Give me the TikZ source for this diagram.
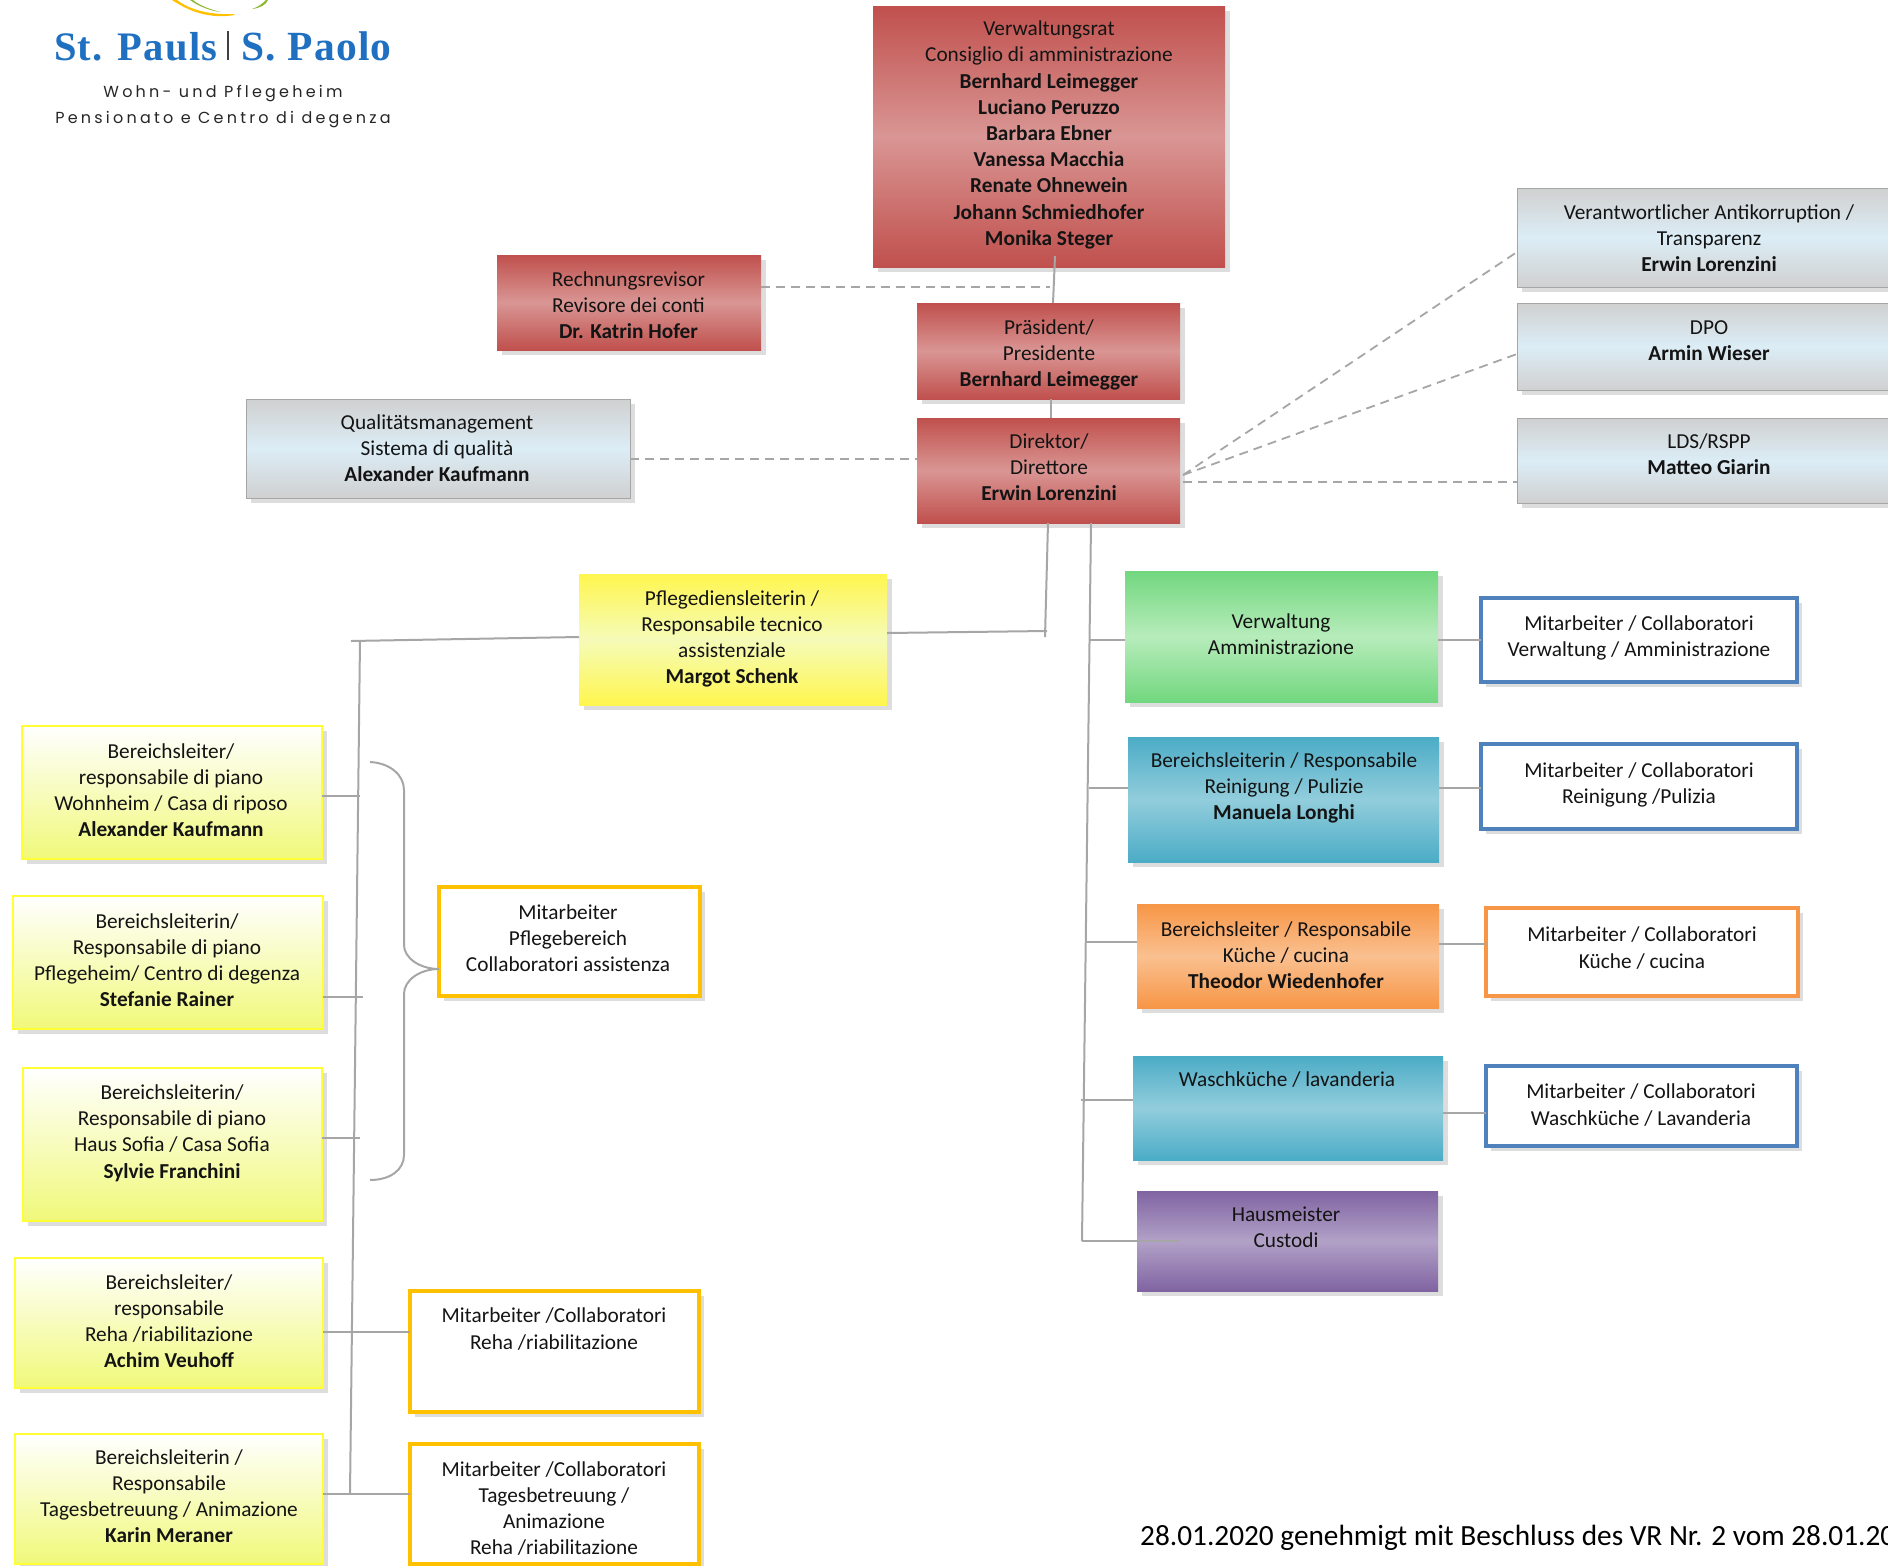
\documentclass[tikz,border=0pt]{standalone}
\usepackage{fontspec}
\setmainfont{Carlito}
\newfontfamily\logofont[LetterSpace=3]{Liberation Serif}
\newfontfamily\tagfont[LetterSpace=20]{Poppins}
\definecolor{linegrey}{HTML}{A6A6A6}
\definecolor{shadowgrey}{HTML}{DDDDDD}
\definecolor{redA}{HTML}{C0504D}\definecolor{redB}{HTML}{D99694}
\definecolor{greyA}{HTML}{D0D0D0}\definecolor{greyB}{HTML}{DCEDF6}
\definecolor{greenA}{HTML}{72D77F}\definecolor{greenB}{HTML}{B7ECBB}
\definecolor{blueA}{HTML}{4BACC6}\definecolor{blueB}{HTML}{92CDDC}
\definecolor{orangeA}{HTML}{F79646}\definecolor{orangeB}{HTML}{FAC090}
\definecolor{purpleA}{HTML}{8064A2}\definecolor{purpleB}{HTML}{B2A1C7}
\definecolor{yelA}{HTML}{FFF64F}\definecolor{yelB}{HTML}{F5FBB8}
\definecolor{yelC}{HTML}{F0F97A}\definecolor{yelEdge}{HTML}{FFFF33}
\definecolor{goldEdge}{HTML}{FFC000}\definecolor{navyEdge}{HTML}{4F81BD}
\definecolor{logoblue}{HTML}{1F70C1}
\definecolor{logogreen}{HTML}{8DB82E}
\tikzset{
  x=1pt,y=-1pt,
  orgbox/.style={rectangle,inner sep=0pt,outer sep=0pt},
  tricolor/.style 2 args={top color=#1,bottom color=#1,middle color=#2},
  redbox/.style={orgbox,tricolor={redA}{redB}},
  greybox/.style={orgbox,tricolor={greyA}{greyB},draw=linegrey,line width=1pt},
  greenbox/.style={orgbox,tricolor={greenA}{greenB}},
  bluebox/.style={orgbox,tricolor={blueA}{blueB}},
  orangebox/.style={orgbox,tricolor={orangeA}{orangeB}},
  purplebox/.style={orgbox,tricolor={purpleA}{purpleB}},
  yellowbox/.style={orgbox,tricolor={yelA}{yelB}},
  leadbox/.style={orgbox,top color=white,bottom color=yelC,draw=yelEdge,line width=1.6pt},
  goldbox/.style={orgbox,fill=white,draw=goldEdge,line width=4pt},
  navybox/.style={orgbox,fill=white,draw=navyEdge,line width=3.2pt},
  orangeline/.style={orgbox,fill=white,draw=orangeA,line width=3.2pt},
  boxtext/.style={inner sep=0pt,align=center,text=black!92,font=\fontsize{21.3}{26.2}\selectfont},
  solidlink/.style={draw=linegrey,line width=2pt},
  dashlink/.style={draw=linegrey,line width=1.8pt,dash pattern=on 9pt off 6pt},
}
\newcommand{\orgnode}[8]{%
  \fill[shadowgrey] (#3+5,#4+5) rectangle (#5+5,#6+5);
  \node[#1,minimum width={(#5-#3)*1pt},minimum height={(#6-#4)*1pt}] (#2) at ({(#3+#5)/2},{(#4+#6)/2}) {};
  \node[boxtext] (#2-text) at (#7,#8) {\orgtext};
}
\newcommand{\orgtext}{}
\newcommand{\bx}[9]{\renewcommand{\orgtext}{#9}\orgnode{#1}{#2}{#3}{#4}{#5}{#6}{#7}{#8}}
\begin{document}
\begin{tikzpicture}
\useasboundingbox (0,0) rectangle (1888,1566);
\clip (0,0) rectangle (1888,1566);
% logo
\fill[goldEdge] (177,0) .. controls (190,10) and (210,15) .. (233,14) -- (235,15) .. controls (210,19) and (190,12) .. (172,0) -- cycle;
\fill[logogreen] (193,0) .. controls (200,6) and (212,10) .. (221,12) .. controls (210,11) and (198,6) .. (190,0) -- cycle;
\fill[logogreen] (252,9) .. controls (258,7) and (262,4) .. (266,0) -- (268,0) .. controls (266,5) and (260,8) .. (252,9) -- cycle;
\node[anchor=base west,inner sep=0pt,text=logoblue,font=\logofont\bfseries\fontsize{40.5}{42}\selectfont] (logoa) at (54,60) {St. Pauls};
\node[anchor=base west,inner sep=0pt,text=logoblue,font=\logofont\bfseries\fontsize{41.5}{42}\selectfont] (logob) at (241,60) {S. Paolo};
\fill[black!75] (227.3,31) rectangle (229,60);
\node[anchor=base,inner sep=0pt,text=black!85,font=\tagfont\fontsize{16}{20}\selectfont] (logoc) at (223,97) {Wohn- und Pflegeheim};
\node[anchor=base,inner sep=0pt,text=black!85,font=\tagfont\fontsize{16}{20}\selectfont] (logod) at (223,123) {Pensionato e Centro di degenza};
% top
\bx{redbox}{vr}{873}{6}{1225}{267}{1049}{135}{Verwaltungsrat\\Consiglio di amministrazione\\\textbf{Bernhard Leimegger}\\\textbf{Luciano Peruzzo}\\\textbf{Barbara Ebner}\\\textbf{Vanessa Macchia}\\\textbf{Renate Ohnewein}\\\textbf{Johann Schmiedhofer}\\\textbf{Monika Steger}}
\bx{redbox}{rev}{497}{255}{761}{350}{628.5}{305}{Rechnungsrevisor\\Revisore dei conti\\\textbf{Dr. Katrin Hofer}}
\bx{redbox}{pres}{917}{303}{1180}{399}{1049}{355}{Präsident/\\Presidente\\\textbf{Bernhard Leimegger}}
\bx{redbox}{dir}{917}{418}{1180}{523}{1049}{467}{Direktor/\\Direttore\\\textbf{Erwin Lorenzini}}
\bx{greybox}{qual}{246}{399}{630}{498}{437}{448}{Qualitätsmanagement\\Sistema di qualità\\\textbf{Alexander Kaufmann}}
\bx{greybox}{anti}{1517}{188}{1905}{287}{1709}{238}{Verantwortlicher Antikorruption /\\Transparenz\\\textbf{Erwin Lorenzini}}
\bx{greybox}{dpo}{1517}{303}{1905}{390}{1709}{341}{DPO\\\textbf{Armin Wieser}}
\bx{greybox}{lds}{1517}{418}{1905}{503}{1709}{454}{LDS/RSPP\\\textbf{Matteo Giarin}}
% centre
\bx{yellowbox}{pdl}{579}{574}{887}{705}{732}{639}{Pflegediensleiterin /\\Responsabile tecnico\\assistenziale\\\textbf{Margot Schenk}}
% right column
\bx{greenbox}{verw}{1125}{571}{1438}{702}{1281}{634}{Verwaltung\\Amministrazione}
\bx{navybox}{mverw}{1481}{598}{1797}{682}{1639}{638}{Mitarbeiter / Collaboratori\\Verwaltung / Amministrazione}
\bx{bluebox}{rein}{1128}{737}{1439}{862}{1284}{788}{Bereichsleiterin / Responsabile\\Reinigung / Pulizie\\\textbf{Manuela Longhi}}
\bx{navybox}{mrein}{1481}{744}{1797}{829}{1639}{785}{Mitarbeiter / Collaboratori\\Reinigung /Pulizia}
\bx{orangebox}{kue}{1137}{904}{1439}{1008}{1286}{955}{Bereichsleiter / Responsabile\\Küche / cucina\\\textbf{Theodor Wiedenhofer}}
\bx{orangeline}{mkue}{1486}{908}{1798}{996}{1642}{948}{Mitarbeiter / Collaboratori\\Küche / cucina}
\bx{bluebox}{wasch}{1133}{1056}{1443}{1160}{1287}{1080}{Waschküche / lavanderia}
\bx{navybox}{mwasch}{1486}{1066}{1797}{1146}{1641}{1105}{Mitarbeiter / Collaboratori\\Waschküche / Lavanderia}
\bx{purplebox}{haus}{1137}{1191}{1438}{1291}{1286}{1227}{Hausmeister\\Custodi}
% left column
\bx{leadbox}{bla}{22}{726}{322}{859}{171}{790}{Bereichsleiter/\\responsabile di piano\\Wohnheim / Casa di riposo\\\textbf{Alexander Kaufmann}}
\bx{leadbox}{blb}{13}{896}{323}{1029}{167}{960}{Bereichsleiterin/\\Responsabile di piano\\Pflegeheim/ Centro di degenza\\\textbf{Stefanie Rainer}}
\bx{leadbox}{blc}{23}{1068}{322}{1221}{172}{1133}{Bereichsleiterin/\\Responsabile di piano\\Haus Sofia / Casa Sofia\\\textbf{Sylvie Franchini}}
\bx{leadbox}{bld}{15}{1258}{323}{1388}{169}{1321}{Bereichsleiter/\\responsabile\\Reha /riabilitazione\\\textbf{Achim Veuhoff}}
\bx{leadbox}{ble}{15}{1434}{323}{1564}{169}{1496}{Bereichsleiterin /\\Responsabile\\Tagesbetreuung / Animazione\\\textbf{Karin Meraner}}
\bx{goldbox}{mpf}{439}{887}{700}{996}{568}{938}{Mitarbeiter\\Pflegebereich\\Collaboratori assistenza}
\bx{goldbox}{mreha}{410}{1291}{699}{1412}{554}{1329}{Mitarbeiter /Collaboratori\\Reha /riabilitazione}
\bx{goldbox}{mtag}{410}{1444}{699}{1564}{554}{1508.5}{Mitarbeiter /Collaboratori\\Tagesbetreuung /\\Animazione\\Reha /riabilitazione}
% free ends of connectors
\coordinate (vrfoot) at (1055,256);
\coordinate (presin) at (1053,303);
\coordinate (dirup) at (1051,418);
\coordinate (presdown) at (1051,399);
\coordinate (revend) at (1050,287);
\coordinate (dirr) at (1183,475);
\coordinate (dirdash) at (1183,482);
\coordinate (ltop) at (1048,523);
\coordinate (lbot) at (1045,637);
\coordinate (ljoin) at (1047,631);
\coordinate (rtop) at (1091,523);
\coordinate (rbot) at (1082,1241);
\coordinate (trunkt) at (360,640);
\coordinate (trunkb) at (350,1494);
\coordinate (trunke) at (351,641);
% connectors
\draw[solidlink] (vrfoot) -- (presin);
\draw[solidlink] (presdown) -- (dirup);
\draw[dashlink] (rev.east |- revend) -- (revend);
\draw[dashlink] (qual.east |- 0,459) -- (dir.west |- 0,459);
\draw[dashlink] (dirr) -- (anti.west |- 0,252);
\draw[dashlink] (dirr) -- (dpo.west |- 0,354);
\draw[dashlink] (dirdash) -- (lds.west |- dirdash);
\draw[solidlink] (ltop) -- (lbot);
\draw[solidlink] (pdl.east |- 0,633) -- (ljoin);
\draw[solidlink] (rtop) -- (rbot);
\draw[solidlink] (1090,640) -- (verw.west |- 0,640);
\draw[solidlink] (1089,788) -- (rein.west |- 0,788);
\draw[solidlink] (1086,942) -- (kue.west |- 0,942);
\draw[solidlink] (1081,1100) -- (wasch.west |- 0,1100);
\draw[solidlink] (rbot) -- (1180,1241);
\draw[solidlink] (verw.east |- 0,640) -- (mverw.west |- 0,640);
\draw[solidlink] (rein.east |- 0,788) -- (mrein.west |- 0,788);
\draw[solidlink] (kue.east |- 0,944) -- (mkue.west |- 0,944);
\draw[solidlink] (wasch.east |- 0,1113) -- (mwasch.west |- 0,1113);
\draw[solidlink] (pdl.west |- 0,637) -- (trunke);
\draw[solidlink] (trunkt) -- (trunkb);
\draw[solidlink] (bla.east |- 0,796) -- (360,796);
\draw[solidlink] (blb.east |- 0,997) -- (363,997);
\draw[solidlink] (blc.east |- 0,1138) -- (360,1138);
\draw[solidlink] (bld.east |- 0,1332) -- (mreha.west |- 0,1332);
\draw[solidlink] (ble.east |- 0,1494) -- (mtag.west |- 0,1494);
\draw[solidlink] (370,762) .. controls (390,763) and (404,775) .. (404,790) -- (404,945) .. controls (404,958) and (420,969) .. (mpf.west |- 0,969);
\draw[solidlink] (mpf.west |- 0,969) .. controls (420,969) and (404,980) .. (404,994) -- (404,1155) .. controls (404,1170) and (390,1180) .. (370,1180);
% date
\node[anchor=base west,inner sep=0pt,text=black,font=\fontsize{29.3}{34}\selectfont] (date) at (1140,1545) {28.01.2020 genehmigt mit Beschluss des VR Nr. 2 vom 28.01.2020};
\end{tikzpicture}
\end{document}
